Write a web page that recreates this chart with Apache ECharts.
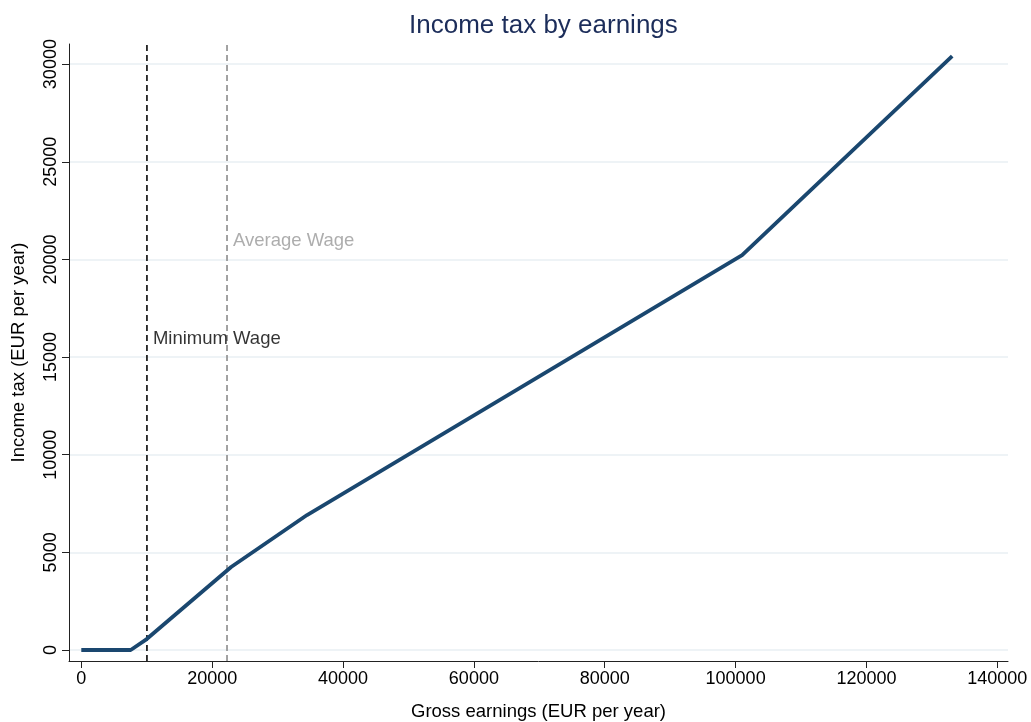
<!DOCTYPE html>
<html>
<head>
<meta charset="utf-8">
<script src="https://cdn.jsdelivr.net/npm/echarts@6/dist/echarts.min.js"></script>
<style>html,body{margin:0;padding:0;background:#fff}#c{width:1031px;height:722px}</style>
</head>
<body>
<div id="c"></div>
<script>
const earnings = [0, 7550, 10000, 22900, 34500, 101000, 133100];
const incomeTax = [0, 0, 560, 4250, 6910, 20225, 30415];
const xTicks = [0, 20000, 40000, 60000, 80000, 100000, 120000, 140000];
const yTicks = [0, 5000, 10000, 15000, 20000, 25000, 30000];
const minimumWage = 10030;
const averageWage = 22270;
const refLabels = ['Minimum Wage', 'Average Wage'];
const refLabelY = [15920, 20940];
const xRange = [-1880, 141630];
const yRange = [-563, 31030];

const font = "'Liberation Sans', Arial, sans-serif";
const chart = echarts.init(document.getElementById('c'), null, {renderer: 'canvas'});
chart.setOption({
  animation: false,
  backgroundColor: '#fff',
  title: {
    text: 'Income tax by earnings', left: 404, top: 8,
    textStyle: {fontFamily: font, fontSize: 26, fontWeight: 'normal', color: '#1c2d5a'}
  },
  grid: {left: 69, right: 23, top: 44, bottom: 61, containLabel: false, outerBoundsMode: 'none'},
  xAxis: {
    type: 'value', min: xRange[0], max: xRange[1],
    name: 'Gross earnings (EUR per year)', nameLocation: 'middle', nameGap: 41,
    nameTextStyle: {fontFamily: font, fontSize: 18.5, color: '#000'},
    axisLine: {show: true, onZero: false, lineStyle: {color: '#222', width: 1}},
    axisTick: {show: true, customValues: xTicks, length: 7, lineStyle: {color: '#222'}},
    axisLabel: {customValues: xTicks, formatter: v => String(v), fontFamily: font, fontSize: 18, color: '#000', margin: 9},
    splitLine: {show: false}
  },
  yAxis: {
    type: 'value', min: yRange[0], max: yRange[1],
    name: 'Income tax (EUR per year)', nameLocation: 'middle', nameGap: 41,
    nameTextStyle: {fontFamily: font, fontSize: 18.5, color: '#000'},
    axisLine: {show: true, onZero: false, lineStyle: {color: '#222', width: 1}},
    axisTick: {show: true, customValues: yTicks, length: 7, lineStyle: {color: '#222'}},
    axisLabel: {customValues: yTicks, formatter: v => String(v), rotate: 90, fontFamily: font, fontSize: 18, color: '#000', margin: 9},
    splitLine: {show: true, lineStyle: {color: '#e9eff3', width: 1.5}}
  },
  series: [
    {
      type: 'line', data: [[minimumWage, yRange[0]], [minimumWage, yRange[1]]],
      symbol: 'none', lineStyle: {color: '#222', width: 1.8, type: [6, 4]}, z: 2
    },
    {
      type: 'line', data: [[averageWage, yRange[0]], [averageWage, yRange[1]]],
      symbol: 'none', lineStyle: {color: '#999', width: 1.8, type: [6, 4]}, z: 2
    },
    {
      type: 'line', data: earnings.map((x, i) => [x, incomeTax[i]]),
      symbol: 'none', lineStyle: {color: '#1a476f', width: 3.8}, z: 3
    },
    {
      type: 'scatter', symbolSize: 0, z: 4,
      data: [
        {value: [minimumWage, refLabelY[0]], label: {show: true, formatter: refLabels[0], position: 'right', distance: 6, color: '#000', fontFamily: font, fontSize: 18.5}},
        {value: [averageWage, refLabelY[1]], label: {show: true, formatter: refLabels[1], position: 'right', distance: 6, color: '#999', fontFamily: font, fontSize: 18.5}}
      ]
    }
  ]
});
</script>
</body>
</html>
